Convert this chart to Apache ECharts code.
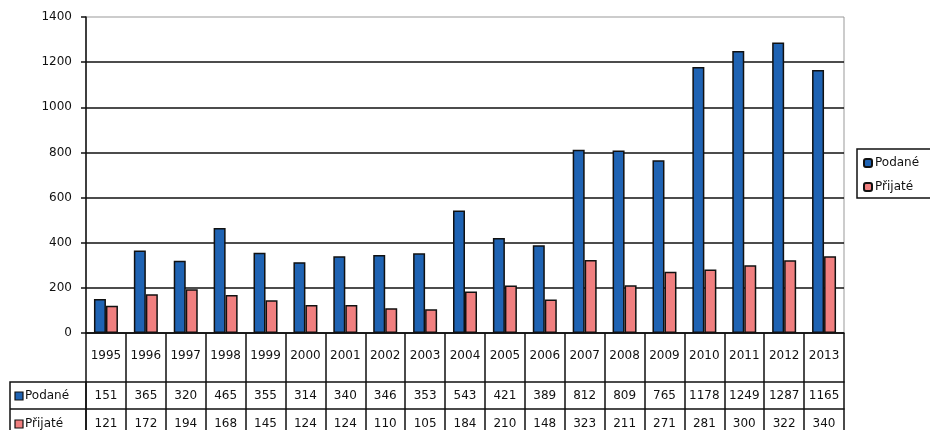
<!DOCTYPE html>
<html><head><meta charset="utf-8">
<script src="https://cdn.jsdelivr.net/npm/echarts@6/dist/echarts.min.js"></script>
<style>html,body{margin:0;padding:0;background:#fff}#c{width:930px;height:430px}</style>
</head><body><div id="c"></div>
<script>
const years = ['1995','1996','1997','1998','1999','2000','2001','2002','2003','2004','2005','2006','2007','2008','2009','2010','2011','2012','2013'];
const podane = [151,365,320,465,355,314,340,346,353,543,421,389,812,809,765,1178,1249,1287,1165];
const prijate = [121,172,194,168,145,124,124,110,105,184,210,148,323,211,271,281,300,322,340];
const seriesNames = ['Podané','Přijaté'];
const yTicks = [0,200,400,600,800,1000,1200,1400];

const colors = ['#1f63b3','#f07f7f'];
const FONT = '"DejaVu Sans", sans-serif';
const txt = {fontFamily: FONT, fontSize: 12, color: '#111'};

const chart = echarts.init(document.getElementById('c'), null, {renderer:'canvas'});
chart.setOption({
  animation: false,
  backgroundColor: '#fff',
  grid: {left: 86, right: 86, top: 17, bottom: 97, show: true, borderColor: '#999', borderWidth: 1, containLabel: false},
  legend: {
    orient: 'vertical', left: 857, top: 149,
    padding: [8, 20, 5, 6], itemGap: 12, itemWidth: 8, itemHeight: 8,
    borderColor: '#111', borderWidth: 1.5,
    textStyle: Object.assign({}, txt, {padding: [0,0,0,-2]}),
    data: seriesNames
  },
  xAxis: [
    {
      type: 'category', data: years, position: 'bottom', offset: 0,
      axisLine: {show: true, onZero: false, lineStyle: {color: '#111', width: 1.5}},
      axisTick: {show: true, interval: 0, length: 100, lineStyle: {color: '#111', width: 1.5}},
      axisLabel: Object.assign({}, txt, {interval: 0, margin: 17}),
      splitLine: {show: false}
    },
    {
      type: 'category', data: years, position: 'bottom', offset: 49,
      axisLine: {show: true, onZero: false, lineStyle: {color: '#111', width: 1.5}},
      axisTick: {show: false},
      axisLabel: Object.assign({}, txt, {interval: 0, margin: 8, formatter: (v, i) => String(podane[i])}),
      splitLine: {show: false}
    },
    {
      type: 'category', data: years, position: 'bottom', offset: 76,
      axisLine: {show: true, onZero: false, lineStyle: {color: '#111', width: 1.5}},
      axisTick: {show: false},
      axisLabel: Object.assign({}, txt, {interval: 0, margin: 9, formatter: (v, i) => String(prijate[i])}),
      splitLine: {show: false}
    }
  ],
  yAxis: {
    type: 'value', min: yTicks[0], max: yTicks[yTicks.length-1], interval: 200,
    axisLine: {show: true, lineStyle: {color: '#111', width: 1.5}},
    axisTick: {show: true, length: 5, lineStyle: {color: '#111', width: 1.5}},
    axisLabel: Object.assign({}, txt, {margin: 14, formatter: v => String(v)}),
    splitLine: {show: true, showMaxLine: false, lineStyle: {color: '#111', width: 1.5}}
  },
  series: [
    {
      name: seriesNames[0], type: 'bar', data: podane, xAxisIndex: 0,
      barWidth: 12, barGap: '0%',
      itemStyle: {color: colors[0], borderColor: '#111', borderWidth: 1.5}
    },
    {
      name: seriesNames[1], type: 'bar', data: prijate, xAxisIndex: 0,
      barWidth: 12, barGap: '0%',
      itemStyle: {color: colors[1], borderColor: '#111', borderWidth: 1.5}
    }
  ],
  graphic: [
    {type: 'rect', shape: {x: 10, y: 382, width: 76, height: 60}, style: {fill: 'none', stroke: '#111', lineWidth: 1.5}, silent: true},
    {type: 'line', shape: {x1: 10, y1: 409, x2: 86, y2: 409}, style: {stroke: '#111', lineWidth: 1.5}, silent: true},
    {type: 'rect', shape: {x: 15, y: 392, width: 8, height: 8}, style: {fill: colors[0], stroke: '#111', lineWidth: 1.2}, silent: true},
    {type: 'rect', shape: {x: 15, y: 420, width: 8, height: 8}, style: {fill: colors[1], stroke: '#111', lineWidth: 1.2}, silent: true},
    {type: 'text', x: 25, y: 396, style: {text: seriesNames[0], font: '12px ' + FONT, fill: '#111', verticalAlign: 'middle'}, silent: true},
    {type: 'text', x: 25, y: 424, style: {text: seriesNames[1], font: '12px ' + FONT, fill: '#111', verticalAlign: 'middle'}, silent: true}
  ]
});
</script>
</body></html>
